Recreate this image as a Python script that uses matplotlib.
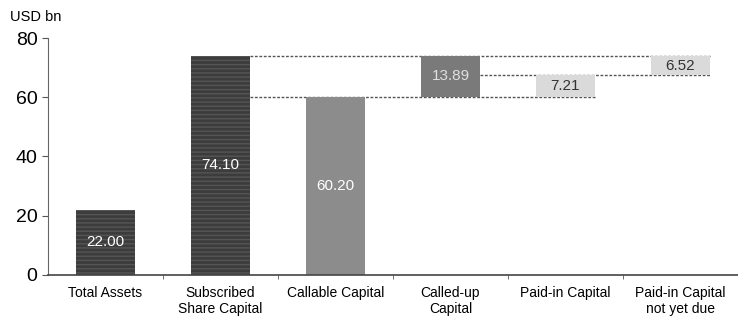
import matplotlib
matplotlib.use("Agg")
import matplotlib.pyplot as plt

plt.rcParams['font.family'] = ['Liberation Sans', 'DejaVu Sans']

# Kapitalstruktur, Werte in Mrd. USD
categories = ["Total Assets", "Subscribed\nShare Capital", "Callable Capital",
              "Called-up\nCapital", "Paid-in Capital", "Paid-in Capital\nnot yet due"]
values = [22.00, 74.10, 60.20, 13.89, 7.21, 6.52]
bottoms = [0, 0, 0, 60.20, 60.20, 60.20 + 7.21]
colors = ["#3c3c3c", "#3c3c3c", "#8c8c8c", "#7a7a7a", "#dadada", "#dadada"]
label_colors = ["white", "white", "white", "#e0e0e0", "#333333", "#333333"]

fig = plt.figure(figsize=(7.38, 3.23), dpi=100)
ax = fig.add_axes([0.065, 0.149, 0.935, 0.733])

x = list(range(len(categories)))
w = 0.52
bars = ax.bar(x, values, width=w, bottom=bottoms, color=colors, edgecolor="none", zorder=2)
# Streifenmuster auf den dunklen Balken
for b in bars[:2]:
    b.set_hatch("----")
    b.set_edgecolor("#555555")
    b.set_linewidth(0)

for i, (v, b0) in enumerate(zip(values, bottoms)):
    ax.text(i, b0 + v / 2, f"{v:.2f}", ha="center", va="center",
            fontsize=11, color=label_colors[i], zorder=3)

# gestrichelte Verbindungslinien
dash = (0, (2, 1.2))
ax.hlines(values[1], 1 + w / 2, 5 + w / 2, colors="#555555", linestyles=dash, linewidth=1, zorder=1)
ax.hlines(values[2], 1 + w / 2, 4 + w / 2, colors="#555555", linestyles=dash, linewidth=1, zorder=1)
ax.hlines(bottoms[5], 3 + w / 2, 5 + w / 2, colors="#555555", linestyles=dash, linewidth=1, zorder=1)

ax.set_xlim(-0.5, 5.5)
ax.set_ylim(0, 80)
ax.set_yticks([0, 20, 40, 60, 80])
ax.tick_params(axis="y", labelsize=14, length=4, color="#555555")
ax.set_xticks(x)
ax.set_xticklabels(categories, fontsize=10)
ax.tick_params(axis="x", length=0, pad=8)
ax.set_xticks([i + 0.5 for i in x[:-1]], minor=True)
ax.tick_params(axis="x", which="minor", length=3, direction="out", color="#555555")
for s in ["top", "right"]:
    ax.spines[s].set_visible(False)
ax.spines["left"].set_color("#666666")
ax.spines["bottom"].set_color("#444444")
ax.spines["bottom"].set_linewidth(1.2)

fig.text(0.014, 0.925, "USD bn", fontsize=10.5, ha="left", va="bottom")

fig.savefig("out.png", dpi=100)
